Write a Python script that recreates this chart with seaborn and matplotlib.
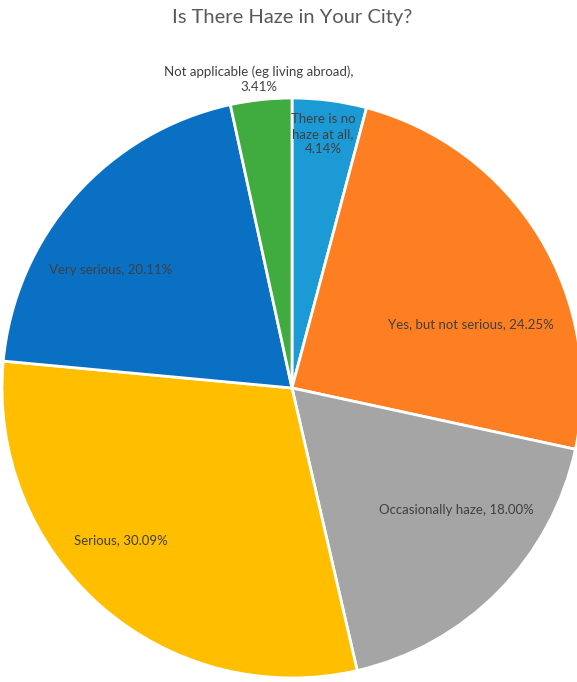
import matplotlib
matplotlib.use("Agg")
import matplotlib.pyplot as plt
import seaborn as sns

# data
categories = ['There is no haze at all', 'Yes, but not serious', 'Occasionally haze',
              'Serious', 'Very serious', 'Not applicable (eg living abroad)']
shares = [4.14, 24.25, 18.00, 30.09, 20.11, 3.41]
label_texts = ['There is no\nhaze at all,\n4.14%', 'Yes, but not serious, 24.25%',
               'Occasionally haze, 18.00%', 'Serious, 30.09%', 'Very serious, 20.11%',
               'Not applicable (eg living abroad),\n3.41%']
colors = ['#1b9ad6', '#fe7f22', '#a5a5a5', '#ffbf00', '#0a70c4', '#40ab3e']

# label centres, pixels relative to the pie centre (x right, y up)
label_pos = [(31, 254), (179, 64), (164, -122), (-171, -152), (-181, 118), (-33, 309)]

sns.set_style("white")
plt.rcParams['font.family'] = ['Lato', 'DejaVu Sans']

fig = plt.figure(figsize=(5.77, 6.82), dpi=100)
ax = fig.add_axes([0, 0, 1, 1])
cx, cy, R = 292, 388, 290

wedges, _ = ax.pie(shares, colors=sns.color_palette(colors), startangle=90,
                   counterclock=False, radius=R,
                   wedgeprops=dict(edgecolor='white', linewidth=2))

# pie() resets the limits, so set them afterwards
ax.set_xlim(-cx, 577 - cx)
ax.set_ylim(-(682 - cy), cy)
ax.set_aspect('equal')
ax.axis('off')

for txt, (x, y) in zip(label_texts, label_pos):
    ax.text(x, y, txt, ha='center', va='center', fontsize=9.5, color='#404040',
            linespacing=1.3)

ax.text(292 - cx, cy - 17, 'Is There Haze in Your City?', ha='center', va='center',
        fontsize=14.5, color='#595959')

fig.savefig('out.png', dpi=100)
